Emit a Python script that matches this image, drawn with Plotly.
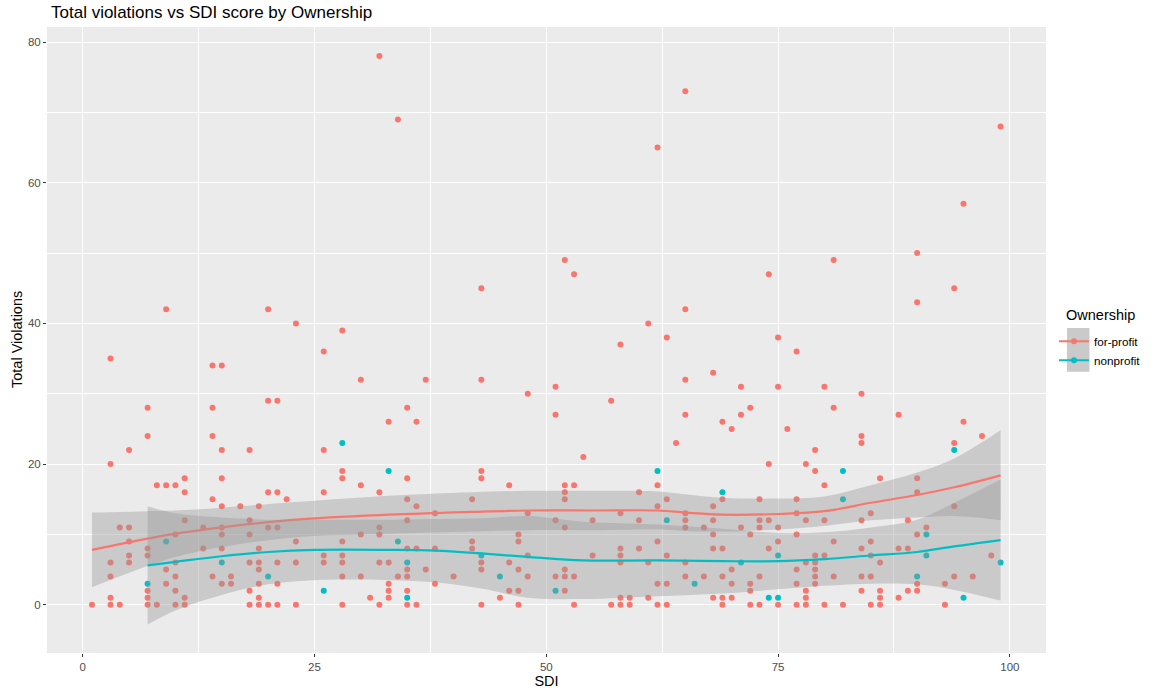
"""Total violations vs SDI score, split by ownership, with loess-style smooth bands."""
import plotly.graph_objects as go

# --- scatter data (SDI, total violations) ---
forprofit_sdi = [
    7, 7, 5, 3, 14, 14, 15, 18, 20, 21, 11, 8, 9, 10, 11, 15, 14, 20, 21, 22,
    15, 17, 19, 4, 5, 11, 18, 13, 15, 20, 21, 5, 10, 15, 18, 7, 7, 5, 3, 5,
    13, 15, 19, 10, 18, 19, 21, 3, 9, 9, 10, 14, 16, 19, 15, 16, 19, 21,
    7, 10, 18, 3, 7, 11, 19, 1, 3, 4, 7, 8, 10, 11, 18, 19, 20, 21,
    48, 35, 33, 36, 26, 28, 28, 35, 43, 43, 30, 32, 26, 46, 35, 36, 42, 38, 48, 35,
    32, 30, 32, 47, 23, 28, 42, 47, 35, 36, 38, 42, 26, 28, 48, 23, 26, 28, 32, 33,
    43, 46, 35, 37, 43, 47, 28, 30, 34, 35, 40, 48, 33, 38, 33, 35, 46, 47, 31, 33,
    45, 23, 28, 32, 35, 36, 43, 47,
    51, 57, 65, 71, 72, 69, 70, 64, 54, 74, 52, 53, 52, 52, 62, 60, 63, 69, 73, 62,
    68, 58, 65, 51, 55, 60, 65, 68, 73, 74, 52, 65, 67, 71, 73, 75, 68, 72, 62, 75,
    58, 60, 68, 69, 74, 55, 58, 63, 58, 61, 65, 52, 70, 51, 52, 53, 65, 67, 69, 73,
    62, 63, 70, 72, 52, 72, 58, 59, 61, 68, 69, 70, 53, 57, 58, 59, 62, 63, 69, 72,
    73, 75,
    84, 81, 88, 95, 76, 97, 84, 84, 94, 79, 78, 79, 86, 90, 80, 90, 77, 94, 77, 85,
    78, 80, 84, 89, 91, 77, 90, 81, 85, 84, 88, 89, 79, 80, 85, 98, 78, 79, 86, 77,
    79, 79, 81, 84, 85, 94, 96, 77, 79, 90, 93, 78, 84, 86, 89, 90, 78, 86, 88, 77,
    78, 80, 82, 85, 86, 93,
    32, 34, 43, 9, 20, 23, 28, 3, 14, 15, 26, 30, 37, 43,
    65, 62, 99, 95, 90, 52, 53, 74, 81, 94, 90, 65, 61, 58, 63, 75, 77, 65, 68, 51,
    71, 75, 80,
]
forprofit_viol = [
    28, 24, 22, 20, 28, 24, 22, 22, 29, 29, 18, 17, 17, 17, 16, 18, 15, 16, 16, 15,
    14, 14, 14, 11, 11, 12, 12, 11, 11, 11, 11, 9, 10, 10, 10, 8, 7, 7, 6, 6,
    8, 8, 8, 6, 6, 6, 6, 4, 5, 3, 4, 4, 4, 5, 3, 3, 3, 3,
    2, 2, 2, 1, 1, 1, 1, 0, 0, 0, 0, 0, 0, 0, 0, 0, 0, 0,
    30, 28, 26, 26, 22, 19, 18, 18, 19, 18, 17, 16, 16, 17, 15, 14, 15, 13, 13, 12,
    11, 10, 10, 10, 9, 9, 9, 9, 8, 8, 8, 8, 7, 7, 7, 6, 6, 6, 6, 6,
    6, 6, 5, 5, 5, 5, 4, 4, 4, 4, 4, 4, 3, 3, 2, 2, 2, 2, 1, 1,
    1, 0, 0, 0, 0, 0, 0, 0,
    27, 29, 27, 27, 28, 26, 25, 23, 21, 20, 17, 17, 16, 15, 17, 16, 15, 15, 15, 14,
    14, 13, 13, 12, 12, 12, 12, 12, 12, 12, 11, 11, 11, 11, 11, 11, 10, 10, 9, 9,
    8, 8, 8, 8, 8, 7, 7, 7, 6, 6, 6, 5, 5, 4, 4, 4, 4, 4, 4, 4,
    3, 3, 3, 3, 2, 2, 1, 1, 1, 1, 1, 1, 0, 0, 0, 0, 0, 0, 0, 0,
    0, 0,
    30, 28, 27, 26, 25, 24, 24, 23, 23, 22, 20, 19, 18, 18, 17, 16, 15, 14, 13, 13,
    12, 12, 12, 12, 11, 10, 10, 9, 9, 8, 8, 8, 7, 7, 7, 7, 6, 6, 6, 5,
    5, 4, 4, 4, 4, 4, 4, 3, 3, 3, 3, 2, 2, 2, 2, 2, 1, 1, 1, 0,
    0, 0, 0, 0, 0, 0,
    78, 69, 45, 42, 42, 40, 39, 35, 34, 34, 36, 32, 32, 32,
    73, 65, 68, 57, 50, 49, 47, 47, 49, 45, 43, 42, 40, 37, 38, 38, 36, 32, 33, 31,
    31, 31, 31,
]

nonprofit_sdi = [9, 15, 7, 20, 28, 33, 34, 43, 35, 45, 26, 35,
                 62, 69, 63, 75, 71, 66, 51, 74, 75, 94, 82, 82, 91, 91, 99, 90, 95]
nonprofit_viol = [9, 6, 3, 4, 23, 19, 9, 7, 6, 4, 2, 1,
                  19, 16, 12, 7, 6, 3, 2, 1, 1, 22, 19, 15, 10, 7, 6, 4, 1]

# --- smoothed fits and 95% bands ---
fp_fit_sdi = [1, 7, 10, 15, 23, 33, 42, 48, 55, 62, 65, 69, 75, 80, 85, 90, 94, 99]
fp_fit = [7.8, 9.4, 10.1, 11.0, 12.1, 12.8, 13.2, 13.4, 13.4, 13.4, 13.1, 12.8, 12.9, 13.3, 14.5, 15.6, 16.7, 18.4]
fp_lower = [2.5, 5.5, 6.8, 8.2, 9.6, 10.1, 10.4, 10.6, 10.6, 10.7, 10.5, 10.4, 10.7, 11.2, 12.0, 12.4, 12.6, 12.0]
fp_upper = [13.1, 13.3, 13.4, 13.8, 14.6, 15.5, 16.0, 16.2, 16.2, 16.1, 15.7, 15.2, 15.1, 15.4, 17.0, 18.8, 20.8, 24.8]

np_fit_sdi = [7, 10, 15, 20, 25, 33, 38, 43, 48, 54, 62, 69, 75, 80, 85, 90, 94, 99]
np_fit = [5.6, 6.1, 6.9, 7.5, 7.8, 7.8, 7.7, 7.3, 6.8, 6.3, 6.3, 6.2, 6.2, 6.5, 7.0, 7.5, 8.3, 9.2]
np_lower = [-2.8, -0.8, 1.4, 2.9, 3.5, 3.5, 3.2, 2.3, 1.0, 0.8, 1.2, 1.6, 2.2, 2.7, 3.0, 2.9, 2.1, 0.6]
np_upper = [14.0, 13.0, 12.4, 12.1, 12.1, 12.1, 12.2, 12.3, 12.6, 11.8, 11.4, 10.8, 10.2, 10.3, 11.0, 12.1, 14.5, 17.8]

RED = "#F8766D"
TEAL = "#00BFC4"
BAND = "rgba(153,153,153,0.4)"

fig = go.Figure()

fig.add_trace(go.Scatter(x=forprofit_sdi, y=forprofit_viol, mode="markers",
                         marker=dict(color=RED, size=6), showlegend=False, hoverinfo="x+y"))
fig.add_trace(go.Scatter(x=nonprofit_sdi, y=nonprofit_viol, mode="markers",
                         marker=dict(color=TEAL, size=6), showlegend=False, hoverinfo="x+y"))

for sdi, lo, hi, fit, col in [(fp_fit_sdi, fp_lower, fp_upper, fp_fit, RED),
                              (np_fit_sdi, np_lower, np_upper, np_fit, TEAL)]:
    fig.add_trace(go.Scatter(x=sdi, y=lo, mode="lines", line=dict(width=0, shape="spline"),
                             showlegend=False, hoverinfo="skip"))
    fig.add_trace(go.Scatter(x=sdi, y=hi, mode="lines", line=dict(width=0, shape="spline"),
                             fill="tonexty", fillcolor=BAND, showlegend=False, hoverinfo="skip"))
    fig.add_trace(go.Scatter(x=sdi, y=fit, mode="lines", line=dict(color=col, width=2.2, shape="spline"),
                             showlegend=False))

# legend entries
for name, col in [("for-profit", RED), ("nonprofit", TEAL)]:
    fig.add_trace(go.Scatter(x=[None], y=[None], mode="lines+markers", name=name,
                             line=dict(color=col, width=2), marker=dict(color=col, size=6)))

# gray key background like ggplot's legend keys
fig.add_shape(type="rect", xref="paper", yref="paper",
              x0=1.021, x1=1.0435, y0=0.4494, y1=0.5191,
              fillcolor="#CACACA", line_width=0, layer="below")
# chart title over the left part of the panel (centre-anchored so text metrics don't shift it)
fig.add_annotation(text="Total violations vs SDI score by Ownership", xref="paper", yref="paper",
                   x=0.165, y=1.0225, xanchor="center", yanchor="middle", showarrow=False,
                   font=dict(size=17, color="black"))
# legend title, left-aligned with the keys as in ggplot
fig.add_annotation(text="Ownership", xref="paper", yref="paper", x=1.0545, y=0.54,
                   xanchor="center", yanchor="middle", showarrow=False,
                   font=dict(size=14.5, color="black"))
# y axis title placed like ggplot's
fig.add_annotation(text="Total Violations", xref="paper", yref="paper", x=-0.030, y=0.5,
                   xanchor="center", yanchor="middle", textangle=-90, showarrow=False,
                   font=dict(size=14.5, color="black"))

axis_common = dict(
    showgrid=True, gridcolor="white", gridwidth=1.1, zeroline=False, automargin=False,
    ticks="outside", ticklen=3, tickcolor="#333333", tickwidth=1,
    tickfont=dict(size=11.5, color="#4D4D4D"), showline=False,
)

fig.update_xaxes(range=[-3.85, 103.9], tickvals=[0, 25, 50, 75, 100],
                 minor=dict(showgrid=True, gridcolor="white", gridwidth=0.55, tickvals=[12.5, 37.5, 62.5, 87.5]),
                 title=dict(text="SDI", font=dict(size=14.5, color="black"), standoff=4),
                 **axis_common)
fig.update_yaxes(range=[-6.86, 82.14], tickvals=[0, 20, 40, 60, 80],
                 minor=dict(showgrid=True, gridcolor="white", gridwidth=0.55, tickvals=[10, 30, 50, 70]),
                 **axis_common)

fig.update_layout(
    width=1153, height=696,
    plot_bgcolor="#EBEBEB", paper_bgcolor="white",
    font=dict(family="Liberation Sans, Arial, sans-serif", color="black"),
    margin=dict(l=47, r=107, t=27, b=43, autoexpand=False),
    legend=dict(font=dict(size=11.7), x=1.008, xanchor="left", y=0.521, yanchor="top",
                bgcolor="rgba(0,0,0,0)", itemwidth=30, tracegroupgap=0, traceorder="normal"),
)

fig.write_html("out.html", config={"displayModeBar": False},
               post_script="document.body.style.margin='0';")
